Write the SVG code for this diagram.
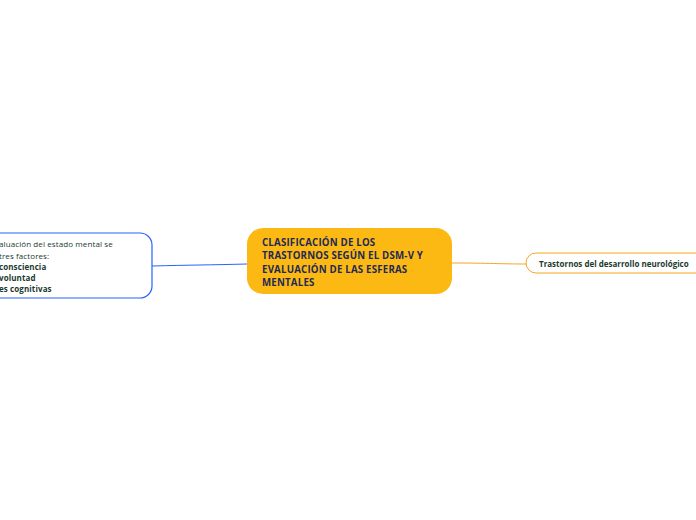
<svg xmlns="http://www.w3.org/2000/svg" width="696" height="520" viewBox="0 0 696 520">
<style>
text{font-family:"Open Sans","Noto Sans",sans-serif;}
.c{font-size:9.7px;font-weight:bold;fill:#1d2a55;letter-spacing:0.2px;}
.l{font-size:8px;fill:#1b3a2e;letter-spacing:0.1px;}
.b{font-weight:bold;}
.r{font-size:8px;font-weight:bold;fill:#1b3a2e;}
</style>
<rect width="696" height="520" fill="#ffffff"/>
<g id="connectors" fill="none">
<path d="M152,266 C190,265 210,265 247,264" stroke="#2962ff" stroke-width="1"/>
<path d="M452,263 C490,263 500,264 526,264" stroke="#f5a623" stroke-width="1"/>
</g>
<g id="central">
<rect x="247" y="228" width="205" height="66" rx="16" fill="#fdb913"/>
<text class="c" x="262" y="245.5">CLASIFICACIÓN DE LOS</text>
<text class="c" x="262" y="259">TRASTORNOS SEGÚN EL DSM-V Y</text>
<text class="c" x="262" y="272.5">EVALUACIÓN DE LAS ESFERAS</text>
<text class="c" x="262" y="286">MENTALES</text>
</g>
<g id="left">
<rect x="-40" y="233" width="192" height="65" rx="12" fill="#ffffff" stroke="#2962ff" stroke-width="1.2"/>
<text class="l" x="-1" y="247">aluación del estado mental se</text>
<text class="l" x="-1" y="258.5">tres factores:</text>
<text class="l b" x="-1" y="270">consciencia</text>
<text class="l b" x="-1" y="281">voluntad</text>
<text class="l b" x="-1" y="292">es cognitivas</text>
</g>
<g id="right">
<rect x="526" y="253" width="180" height="20" rx="10" fill="#ffffff" stroke="#f5a623" stroke-width="1"/>
<text class="r" x="539" y="266.5">Trastornos del desarrollo neurológico</text>
</g>
</svg>
